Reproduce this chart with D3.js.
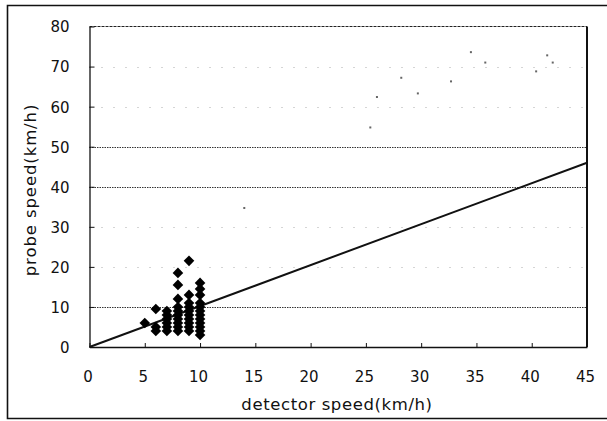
<!DOCTYPE html>
<html>
<head>
<meta charset="utf-8">
<script src="https://cdn.jsdelivr.net/npm/d3@7"></script>
<style>
  html, body { margin: 0; padding: 0; background: #fff; }
  svg { display: block; }
  text { font-family: "DejaVu Sans", sans-serif; fill: #111; }
</style>
</head>
<body>
<svg id="chart" width="607" height="421"></svg>
<script>
// ---- data ----
const detectorSpeed = [5, 6, 6, 6, 7, 7, 7, 7, 7, 7,
  8, 8, 8, 8, 8, 8, 8, 8, 8, 8,
  9, 9, 9, 9, 9, 9, 9, 9, 9, 9,
  10, 10, 10, 10, 10, 10, 10, 10, 10, 10, 10, 10];
const probeSpeed = [6, 9.5, 5, 4, 9, 8, 7, 6, 5, 4,
  18.5, 15.5, 12, 10, 9, 8, 7, 6, 5, 4,
  21.5, 13, 11, 10, 9, 8, 7, 6, 5, 4,
  16, 14.5, 13, 11, 10, 9, 8, 7, 6, 5, 4, 3];
// faint specks (second, barely visible series)
const faintX = [14, 25.4, 26.0, 28.2, 29.7, 32.7, 34.5, 35.8, 40.4, 41.4, 41.9];
const faintY = [34.7, 54.8, 62.4, 67.2, 63.3, 66.3, 73.6, 71, 68.8, 72.8, 71];
// reference line end points
const lineX = [0, 45];
const lineY = [0, 46];
const xTicks = [0, 5, 10, 15, 20, 25, 30, 35, 40, 45];
const yTicks = [0, 10, 20, 30, 40, 50, 60, 70, 80];
const xTitle = "detector speed(km/h)";
const yTitle = "probe speed(km/h)";

// ---- layout ----
const svg = d3.select("#chart");
const L = 89.5, R = 587, T = 26.5, B = 347;
const x = d3.scaleLinear().domain([0, 45]).range([L, R]);
const y = d3.scaleLinear().domain([0, 80]).range([B, T]);
const FONT = "'DejaVu Sans', sans-serif";

// outer frame (right edge runs off the picture)
svg.append("path")
  .attr("d", "M610,5.5 H7.5 V418.5 H610")
  .attr("fill", "none").attr("stroke", "#111").attr("stroke-width", 1.6);

// gridlines
const strong = new Set([10, 40, 50]);
svg.append("g").selectAll("line")
  .data(yTicks.filter(v => v > 0 && v < 80))
  .join("line")
  .attr("x1", L).attr("x2", R)
  .attr("y1", d => Math.round(y(d)) + 0.5).attr("y2", d => Math.round(y(d)) + 0.5)
  .attr("stroke", d => strong.has(d) ? "#333" : "#aaa")
  .attr("stroke-width", 1)
  .attr("stroke-dasharray", d => strong.has(d) ? "1.5,1" : "1,11");

// plot border: top and right
svg.append("line").attr("x1", L).attr("x2", R).attr("y1", T).attr("y2", T)
  .attr("stroke", "#222").attr("stroke-width", 1.2).attr("stroke-dasharray", "3,1");
svg.append("line").attr("x1", R).attr("x2", R).attr("y1", T).attr("y2", B)
  .attr("stroke", "#111").attr("stroke-width", 2);

// axes
const yAxis = d3.axisLeft(y).tickValues(yTicks).tickSizeInner(-5).tickSizeOuter(0).tickPadding(20);
const gy = svg.append("g").attr("transform", `translate(${L},0)`).call(yAxis);
const xAxis = d3.axisBottom(x).tickValues(xTicks).tickSizeInner(-4).tickSizeOuter(0).tickPadding(24);
const gx = svg.append("g").attr("transform", `translate(0,${B})`).call(xAxis);
[gx, gy].forEach(g => {
  g.select(".domain").attr("stroke", "#111").attr("stroke-width", 1.3);
  g.selectAll(".tick line").attr("stroke", "#111");
  g.selectAll(".tick text").attr("font-size", 15)
    .attr("font-family", FONT).attr("fill", "#111");
});
gx.selectAll(".tick text").attr("dx", -2);
gy.selectAll(".tick text").attr("dy", "0.36em");

// axis titles
svg.append("text").attr("x", 337).attr("y", 410).attr("text-anchor", "middle")
  .attr("font-size", 16.5).attr("letter-spacing", 0.6).text(xTitle);
svg.append("text").attr("transform", "translate(35.5,190) rotate(-90)")
  .attr("text-anchor", "middle").attr("font-size", 16.5).attr("letter-spacing", 0.9).text(yTitle);

// reference line
svg.append("line")
  .attr("x1", x(lineX[0])).attr("y1", y(lineY[0]))
  .attr("x2", x(lineX[1])).attr("y2", y(lineY[1]))
  .attr("stroke", "#111").attr("stroke-width", 2);

// faint specks
svg.append("g").selectAll("rect")
  .data(faintX.map((v, i) => [v, faintY[i]]))
  .join("rect")
  .attr("x", d => x(d[0]) - 1).attr("y", d => y(d[1]) - 1)
  .attr("width", 2).attr("height", 2).attr("fill", "#666");

// diamonds
const dm = 5.3;
svg.append("g").selectAll("path")
  .data(detectorSpeed.map((v, i) => [v, probeSpeed[i]]))
  .join("path")
  .attr("transform", d => `translate(${x(d[0])},${y(d[1])})`)
  .attr("d", `M0,${-dm}L${dm},0L0,${dm}L${-dm},0Z`)
  .attr("fill", "#000");
</script>
</body>
</html>
